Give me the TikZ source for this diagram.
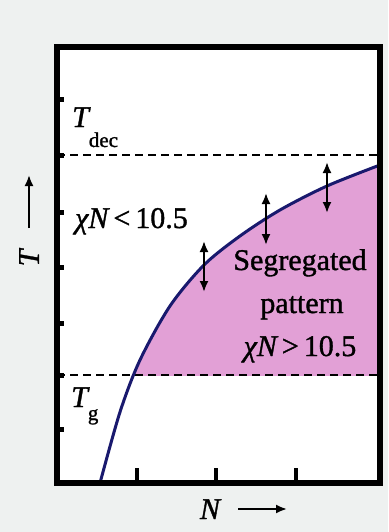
\documentclass[tikz,border=0pt]{standalone}
\usepackage{fontspec}
\setmainfont{Liberation Serif}[UprightFeatures={FakeBold=1.2}, ItalicFeatures={FakeBold=1.2}]
\usetikzlibrary{arrows.meta}
\definecolor{paper}{RGB}{238,241,240}
\definecolor{segpink}{RGB}{226,160,214}
\definecolor{curvenavy}{RGB}{25,25,110}

\begin{document}
\begin{tikzpicture}[x=1pt, y=-1pt,
  lbl/.style={inner sep=0pt, font=\fontsize{30}{30}\selectfont},
  dbl/.style={{Latex[length=11pt,width=9pt]}-{Latex[length=11pt,width=9pt]}, line width=2pt},
  ax/.style={-{Latex[length=11pt,width=9pt]}, line width=2pt},
  lev/.style={dash pattern=on 8pt off 5pt, line width=2pt}]
  \useasboundingbox (0,0) rectangle (388,532);
  \fill[paper] (0,0) rectangle (388,532);
  \fill[white] (57,47) rectangle (380,483);

  % segregated region, cut off at T_g
  \begin{scope}
    \clip (57,47) rectangle (380,375);
    \fill[segpink] plot[smooth] coordinates {(100,483) (120,412) (140,360) (170,306) (204,265) (240,236) (280,210) (327,186) (380,165)}
      -- (380,483) -- cycle;
  \end{scope}

  % T_dec and T_g levels
  \draw[lev] (57,155) -- (380,155);
  \draw[lev] (57,375) -- (380,375);

  % boundary chi N = 10.5
  \draw[curvenavy, line width=3pt] plot[smooth] coordinates {(100,483) (120,412) (140,360) (170,306) (204,265) (240,236) (280,210) (327,186) (380,165)};

  % fluctuations across the boundary
  \draw[dbl] (204,241) -- (204,292);
  \draw[dbl] (266,193) -- (266,245);
  \draw[dbl] (327,162) -- (327,213);

  % frame and ticks
  \draw[line width=6pt] (57,47) rectangle (380,483);
  \foreach \y in {100,155,212,267,323,375,429}
    \draw[line width=5pt] (57,\y) -- (64,\y);
  \foreach \x in {137,216,296}
    \draw[line width=3.5pt] (\x,483) -- (\x,468);

  % labels
  \node[lbl, anchor=base west] (tdec) at (72,127) {\itshape T\upshape\raisebox{-20pt}{\fontsize{21}{21}\selectfont dec}};
  \node[lbl, anchor=base west] (tg) at (71,407) {\itshape T\upshape\raisebox{-13pt}{\fontsize{21}{21}\selectfont g}};
  \node[lbl, anchor=base west] (chilow) at (75,228) {{\itshape χN}\,<\,10.5};
  \node[lbl, anchor=base] (seg1) at (300,270) {Segregated};
  \node[lbl, anchor=base] (seg2) at (302,313) {pattern};
  \node[lbl, anchor=base] (seg3) at (300,356) {{\itshape χN}\,>\,10.5};

  % axes
  \node[lbl, rotate=90] (tlab) at (29,258) {\itshape T};
  \coordinate (tfrom) at (29,228);
  \coordinate (tto) at (29,175);
  \draw[ax] (tfrom) -- (tto);
  \node[lbl, anchor=base] (nlab) at (210,519) {\itshape N};
  \coordinate (nfrom) at (238,509);
  \coordinate (nto) at (287,509);
  \draw[ax] (nfrom) -- (nto);
\end{tikzpicture}
\end{document}
